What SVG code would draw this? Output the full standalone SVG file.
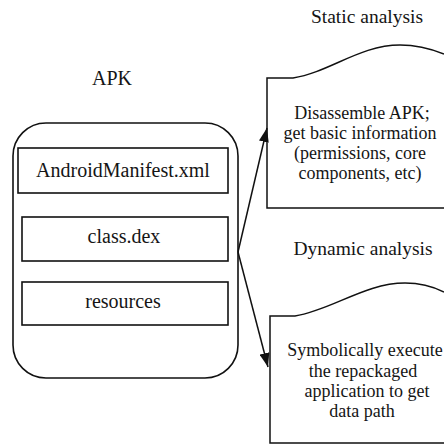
<svg xmlns="http://www.w3.org/2000/svg" width="444" height="446" viewBox="0 0 444 446">
  <style>
    .t { font-family: "Liberation Serif", Tinos, "DejaVu Serif", "Noto Serif", serif; fill: #151515; text-anchor: middle; }
    .h { font-size: 19.5px; }
    .b { font-size: 18px; }
    .n { font-size: 20px; }
    .box { fill: #fff; stroke: #111; stroke-width: 1.6; }
    .doc { fill: #fff; stroke: #111; stroke-width: 1.5; }
    .edge { fill: none; stroke: #111; stroke-width: 1.5; }
  </style>
  <defs>
    <marker id="arrow" viewBox="0 0 14 10" refX="14" refY="5" markerUnits="userSpaceOnUse" markerWidth="14" markerHeight="10" orient="auto">
      <path d="M0,0 L14,5 L0,10 z" fill="#111"/>
    </marker>
  </defs>

  <!-- APK container -->
  <g id="apk">
    <text class="t n" x="112" y="85">APK</text>
    <rect class="box" x="13" y="123" width="225" height="255" rx="33" ry="33"/>
  </g>
  <g id="manifest">
    <rect class="box" x="18" y="148" width="210" height="45"/>
    <text class="t n" x="123" y="177">AndroidManifest.xml</text>
  </g>
  <g id="classdex">
    <rect class="box" x="22" y="217" width="206" height="44"/>
    <text class="t n" x="124" y="243">class.dex</text>
  </g>
  <g id="resources">
    <rect class="box" x="22" y="282" width="206" height="43"/>
    <text class="t n" x="123" y="308">resources</text>
  </g>

  <!-- Static analysis -->
  <g id="static">
    <text class="t h" x="367" y="23">Static analysis</text>
    <path class="doc" d="M444,208 H267 V78 H293 C330,72 360,45 400,45 C420,45 434,50 444,54"/>
    <text class="t b" x="362" y="119">Disassemble APK;</text>
    <text class="t b" x="360" y="139">get basic information</text>
    <text class="t b" x="360" y="159">(permissions, core</text>
    <text class="t b" x="360" y="179">components, etc)</text>
  </g>

  <!-- Dynamic analysis -->
  <g id="dynamic">
    <text class="t h" x="363" y="255">Dynamic analysis</text>
    <path class="doc" d="M444,443 H270 V316 H295 C332,310 365,283 405,283 C424,283 436,288 444,292"/>
    <text class="t b" x="365" y="356">Symbolically execute</text>
    <text class="t b" x="363" y="377">the repackaged</text>
    <text class="t b" x="367" y="397">application to get</text>
    <text class="t b" x="362" y="417">data path</text>
  </g>

  <!-- Connectors -->
  <g id="connectors">
    <path class="edge" d="M238,252 L267,128" marker-end="url(#arrow)"/>
    <path class="edge" d="M238,252 L268,367" marker-end="url(#arrow)"/>
  </g>
</svg>
